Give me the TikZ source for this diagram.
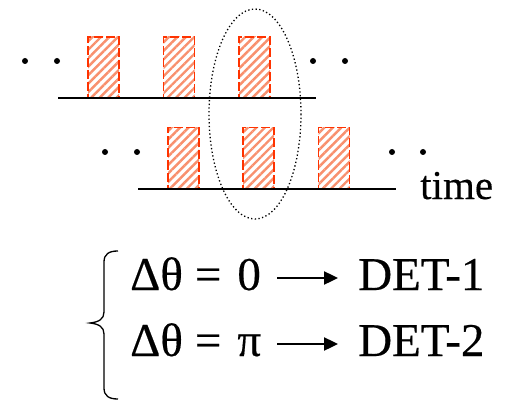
\documentclass[tikz,border=0pt]{standalone}
\usepackage{fontspec}
\setmainfont{Liberation Serif}
\newfontfamily\heavyfont{Liberation Serif}[FakeBold=0.35]
\usetikzlibrary{arrows.meta, positioning, patterns.meta}
\definecolor{pulsec}{HTML}{FF3300}
\definecolor{hatchc}{HTML}{F8906E}

\begin{document}
\begin{tikzpicture}[
    x=1pt, y=-1pt,
    >={Triangle[length=14pt, width=13pt]},
    pulse/.style={rectangle, draw=pulsec, line width=1.8pt, dash pattern=on 9pt off 3pt,
      pattern={Lines[angle=45, distance=6pt, line width=2.4pt]}, pattern color=hatchc,
      minimum width=31pt, minimum height=61pt, inner sep=0pt},
    pt/.style={circle, fill=black, inner sep=0pt, minimum size=6pt},
    axis/.style={line width=2pt},
    big/.style={inner sep=0pt, font=\heavyfont\fontsize{47}{56}\selectfont, text height=34pt, text depth=10pt, anchor=base west},
    eq/.style={big, text width=147pt, align=left}]

  \useasboundingbox (0,0) rectangle (506,401);

  % pulse trains: upper and lower (delayed) arm
  \foreach \x [count=\i] in {103.5,179,254.5} {
    \node[pulse] (up-\i) at (\x,67.5) {};
  }
  \foreach \x [count=\i] in {183.5,258.5,334} {
    \node[pulse] (lo-\i) at (\x,158) {};
  }
  \foreach \x [count=\i] in {25,57,313,345} {
    \node[pt] (upd-\i) at (\x,61) {};
  }
  \foreach \x [count=\i] in {105,137,392,423} {
    \node[pt] (lod-\i) at (\x,152) {};
  }

  % time axes
  \coordinate (ua) at (58,98);  \coordinate (ub) at (316,98);
  \coordinate (la) at (138,189); \coordinate (lb) at (396,189);
  \draw[axis] (ua) -- (ub);
  \draw[axis] (la) -- (lb);
  \node[big, font=\heavyfont\fontsize{41}{48}\selectfont, text height=, text depth=] (time) at (420,199) {time};

  % overlap window
  \draw[line width=1.3pt, dash pattern=on 1.3pt off 2.4pt] (255,114) ellipse [x radius=46, y radius=105];

  % detector assignment
  \node[eq] (eq1) at (130,290) {Δθ\hspace{12pt}=\hspace{16pt}0};
  \node[eq] (eq2) at (130,356) {Δθ\hspace{12pt}=\hspace{16pt}π};
  \node[big] (det1) at (358,290) {DET-1};
  \node[big] (det2) at (358,356) {DET-2};
  \draw[->, line width=2.4pt, shorten >=20pt] (eq1.east) -- (det1.west);
  \draw[->, line width=2.4pt, shorten >=20pt] (eq2.east) -- (det2.west);

  \draw[line width=1.3pt] (118,251) .. controls (109,251) and (104,254) .. (104,262) -- (104,312)
    .. controls (104,319) and (99,322) .. (90,323) .. controls (99,324) and (104,327) .. (104,334)
    -- (104,388) .. controls (104,396) and (109,399) .. (118,399);
\end{tikzpicture}
\end{document}
